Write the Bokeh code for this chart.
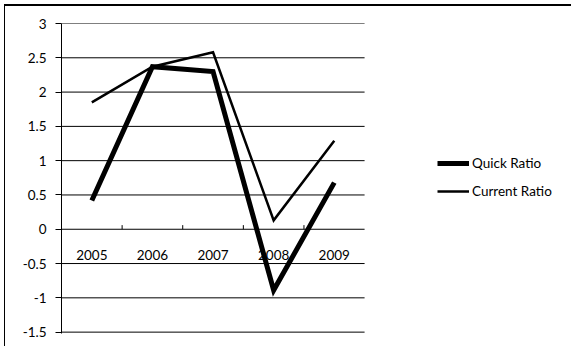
from bokeh.plotting import figure
from bokeh.models import (ColumnDataSource, Range1d, FixedTicker, Legend, LegendItem)
from bokeh.embed import file_html
from bokeh.resources import INLINE

# Liquidity ratios by year
years = ["2005", "2006", "2007", "2008", "2009"]
quick_ratio = [0.42, 2.37, 2.30, -0.89, 0.68]
current_ratio = [1.85, 2.37, 2.58, 0.13, 1.29]
y_ticks = [-1.5, -1, -0.5, 0, 0.5, 1, 1.5, 2, 2.5, 3]

FONT = "Lato"
FONT_SIZE = "13.5px"

pos = list(range(len(years)))
src = ColumnDataSource(dict(x=pos, quick=quick_ratio, current=current_ratio))

# plot area spans the categories; the frame runs on to the right edge to hold the legend
x_lo, x_hi = -0.5, len(years) - 0.5
p = figure(width=567, height=342, output_backend="svg", toolbar_location=None,
           x_range=Range1d(x_lo, 7.93), y_range=Range1d(-1.52, 3),
           min_border_left=56, min_border_right=0,
           min_border_top=17, min_border_bottom=15)
p.styles = {"border-top": "2px solid black", "border-left": "1.5px solid black",
            "margin-left": "4px", "margin-top": "4px"}
p.outline_line_color = None
p.background_fill_color = "white"
p.border_fill_color = "white"
p.grid.visible = False

# horizontal gridlines across the category span
grid_src = ColumnDataSource(dict(y=y_ticks, x0=[x_lo] * len(y_ticks), x1=[x_hi] * len(y_ticks)))
p.segment(x0="x0", x1="x1", y0="y", y1="y", source=grid_src,
          line_color="black", line_width=1, level="underlay")

# value axis
p.yaxis.ticker = FixedTicker(ticks=y_ticks)
p.yaxis.axis_line_color = "black"
p.yaxis.axis_line_width = 1
p.yaxis.major_tick_out = 6
p.yaxis.major_tick_in = 0
p.yaxis.minor_tick_line_color = None
p.yaxis.major_label_standoff = 9
p.yaxis.major_label_text_font = FONT
p.yaxis.major_label_text_font_size = FONT_SIZE
p.yaxis.major_label_text_color = "black"
p.yaxis.major_label_overrides = {t: ("%g" % t) for t in y_ticks}

# category labels hang from the zero line
xa = p.xaxis[0]
xa.fixed_location = 0
xa.ticker = FixedTicker(ticks=pos)
xa.major_label_overrides = {i: y for i, y in zip(pos, years)}
xa.axis_line_color = None
xa.major_tick_line_color = None
xa.minor_tick_line_color = None
xa.major_label_standoff = 15
xa.major_label_text_font = FONT
xa.major_label_text_font_size = FONT_SIZE
xa.major_label_text_color = "black"
xa.level = "underlay"

# small tick marks between categories on the zero line
mids = [i + 0.5 for i in pos[:-1]]
tick_src = ColumnDataSource(dict(x=mids, y0=[0] * len(mids), y1=[0.06] * len(mids)))
p.segment(x0="x", x1="x", y0="y0", y1="y1", source=tick_src, line_color="black", line_width=1)

r_quick = p.line("x", "quick", source=src, line_color="black", line_width=5,
                 line_join="miter", level="overlay")
r_current = p.line("x", "current", source=src, line_color="black", line_width=2.5,
                   line_join="miter", level="overlay")

legend = Legend(items=[LegendItem(label="Quick Ratio", renderers=[r_quick]),
                       LegendItem(label="Current Ratio", renderers=[r_current])],
                location=(376, 132), orientation="vertical",
                glyph_width=32, glyph_height=20, spacing=8,
                label_standoff=3, padding=0, margin=0,
                border_line_color=None, background_fill_alpha=0,
                label_text_font=FONT, label_text_font_size=FONT_SIZE,
                label_text_color="black", label_height=20)
p.add_layout(legend, "center")

open("out.html", "w").write(file_html(p, INLINE))
